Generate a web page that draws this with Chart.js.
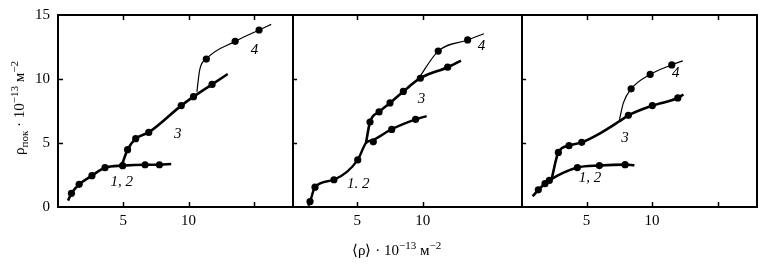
<!DOCTYPE html>
<html>
<head>
<meta charset="utf-8">
<script src="https://cdn.jsdelivr.net/npm/chart.js@4.4.0/dist/chart.umd.min.js"></script>
<style>
  html, body { margin: 0; padding: 0; background: #fff; }
  #wrap { position: relative; width: 761px; height: 268px; overflow: hidden; background: #fff; }
  canvas { position: absolute; top: 0; }
  .title { position: absolute; font-family: "Liberation Serif", serif; font-size: 15px; color: #000; white-space: nowrap; }
  .title sub, .title sup { font-size: 11px; }
  #ytitle { left: 19px; top: 108px; transform: translate(-50%, -50%) rotate(-90deg); }
  #xtitle { left: 352px; top: 239px; }
</style>
</head>
<body>
<div id="wrap">
  <canvas id="c1"></canvas>
  <canvas id="c2"></canvas>
  <canvas id="c3"></canvas>
  <div id="ytitle" class="title">ρ<sub>пок</sub> · 10<sup>−13</sup> м<sup>−2</sup></div>
  <div id="xtitle" class="title">⟨ρ⟩ · 10<sup>−13</sup> м<sup>−2</sup></div>
</div>
<script>
// axis ranges / ticks
var yTicks = [0, 5, 10, 15];
var xLabelled = [5, 10];

// panel 1 (left)
var p1Curve12 = [[0.77, 0.5], [1.03, 1.07], [1.62, 1.77], [2.6, 2.45], [3.6, 3.07], [4.95, 3.23], [6.67, 3.3], [7.77, 3.3], [8.67, 3.36]];
var p1Marks12 = [[1.03, 1.07], [1.62, 1.77], [2.6, 2.45], [3.6, 3.07], [4.95, 3.23], [6.67, 3.3], [7.77, 3.3]];
var p1Curve3 = [[4.9, 3.3], [5.33, 4.48], [5.95, 5.34], [6.95, 5.83], [9.44, 7.92], [10.38, 8.62], [11.8, 9.58], [13.0, 10.39]];
var p1Marks3 = [[5.33, 4.48], [5.95, 5.34], [6.95, 5.83], [9.44, 7.92], [10.38, 8.62], [11.8, 9.58]];
var p1Curve4 = [[10.64, 9.0], [10.85, 10.7], [11.36, 11.56], [13.57, 12.94], [15.4, 13.83], [16.33, 14.27]];
var p1Marks4 = [[11.36, 11.56], [13.57, 12.94], [15.4, 13.83]];
var p1Labels = [['1, 2', 4.88, 1.98], ['3', 9.18, 5.68], ['4', 15.05, 12.27]];

// panel 2 (middle)
var p2Curve12 = [[1.25, 0.1], [1.38, 0.42], [1.76, 1.55], [3.21, 2.13], [5.03, 3.68], [5.66, 5.0], [6.25, 5.25], [7.63, 6.08], [9.46, 6.85], [10.3, 7.1]];
var p2Marks12 = [[1.38, 0.42], [1.76, 1.55], [3.21, 2.13], [5.03, 3.68], [6.22, 5.09], [7.63, 6.06], [9.46, 6.85]];
var p2Curve3 = [[5.66, 5.0], [5.97, 6.64], [6.66, 7.43], [7.5, 8.13], [8.52, 9.03], [9.82, 10.06], [11.91, 10.92], [12.93, 11.44]];
var p2Marks3 = [[5.97, 6.64], [6.66, 7.43], [7.5, 8.13], [8.52, 9.03], [9.82, 10.06], [11.91, 10.92]];
var p2Curve4 = [[9.66, 10.0], [11.19, 12.18], [13.44, 13.05], [14.69, 13.54]];
var p2Marks4 = [[11.19, 12.18], [13.44, 13.05]];
var p2Labels = [['1. 2', 5.07, 1.8], ['3', 9.9, 8.45], ['4', 14.5, 12.6]];

// panel 3 (right)
var p3Curve12 = [[0.89, 0.84], [1.32, 1.34], [1.83, 1.82], [2.16, 2.08], [4.3, 3.08], [5.98, 3.24], [7.94, 3.31], [8.65, 3.26]];
var p3Marks12 = [[1.32, 1.34], [1.83, 1.82], [2.16, 2.08], [4.3, 3.08], [5.98, 3.24], [7.94, 3.31]];
var p3Curve3 = [[2.34, 2.21], [2.85, 4.26], [3.66, 4.79], [4.63, 5.05], [6.03, 5.76], [7.48, 6.68], [8.19, 7.16], [10.02, 7.92], [11.96, 8.52], [12.39, 8.79]];
var p3Marks3 = [[2.85, 4.26], [3.66, 4.79], [4.63, 5.05], [8.19, 7.16], [10.02, 7.92], [11.96, 8.52]];
var p3Curve4 = [[7.48, 6.68], [7.81, 8.13], [8.4, 9.23], [9.85, 10.36], [11.5, 11.1], [12.34, 11.42]];
var p3Marks4 = [[8.4, 9.23], [9.85, 10.36], [11.5, 11.1]];
var p3Labels = [['1, 2', 5.27, 2.29], ['3', 7.94, 5.37], ['4', 11.8, 10.5]];

function pts(arr) {
  return arr.map(function(p) { return {x: p[0], y: p[1]}; });
}

function lineSet(arr, width) {
  return {
    type: 'line', data: pts(arr), borderColor: '#000', borderWidth: width,
    pointRadius: 0, fill: false, cubicInterpolationMode: 'monotone'
  };
}

function markSet(arr) {
  return {
    type: 'scatter', data: pts(arr), pointRadius: 3.6, pointHoverRadius: 3.6,
    backgroundColor: '#000', borderColor: '#000', borderWidth: 0
  };
}

// frame, inward ticks and curve numbers
var framePlugin = {
  id: 'frame',
  afterDatasetsDraw: function(chart, args, opts) {
    var ctx = chart.ctx, a = chart.chartArea;
    var xs = chart.scales.x, ys = chart.scales.y;
    ctx.save();
    ctx.strokeStyle = '#000';
    ctx.lineWidth = 2;
    ctx.strokeRect(a.left, a.top, a.right - a.left, a.bottom - a.top);
    ctx.lineWidth = 1.5;
    ctx.beginPath();
    xs.ticks.forEach(function(t) {
      if (t.value <= xs.min || t.value >= xs.max) return;
      var px = Math.round(xs.getPixelForValue(t.value)) + 0.5;
      ctx.moveTo(px, a.bottom); ctx.lineTo(px, a.bottom - 5);
      ctx.moveTo(px, a.top); ctx.lineTo(px, a.top + 5);
    });
    ys.ticks.forEach(function(t) {
      if (t.value <= ys.min || t.value >= ys.max) return;
      var py = Math.round(ys.getPixelForValue(t.value)) + 0.5;
      ctx.moveTo(a.left, py); ctx.lineTo(a.left + 5, py);
    });
    ctx.stroke();
    ctx.fillStyle = '#000';
    ctx.font = 'italic 15px "Liberation Serif"';
    ctx.textAlign = 'center';
    ctx.textBaseline = 'middle';
    (opts.items || []).forEach(function(l) {
      ctx.fillText(l[0], xs.getPixelForValue(l[1]), ys.getPixelForValue(l[2]));
    });
    ctx.restore();
  }
};

function makePanel(id, left, width, xMax, showY, rightPad, sets, labels) {
  var cv = document.getElementById(id);
  cv.style.left = left + 'px';
  cv.width = width; cv.height = 268;
  cv.style.width = width + 'px'; cv.style.height = '268px';
  return new Chart(cv, {
    data: { datasets: sets },
    options: {
      responsive: false,
      animation: false,
      layout: { autoPadding: false, padding: { top: 15, right: rightPad, left: 0, bottom: 0 } },
      plugins: { legend: { display: false }, tooltip: { enabled: false }, frame: { items: labels } },
      scales: {
        x: {
          type: 'linear', min: 0, max: xMax,
          grid: { display: false, drawTicks: false },
          border: { display: false },
          ticks: {
            stepSize: 5, padding: 5, color: '#000', maxRotation: 0, autoSkip: false,
            font: { family: 'Liberation Serif', size: 15 },
            callback: function(v) { return xLabelled.indexOf(v) >= 0 ? String(v) : ''; }
          },
          afterFit: function(s) { s.height = 61; s.paddingLeft = 0; s.paddingRight = 0; }
        },
        y: {
          type: 'linear', min: 0, max: 15, display: showY,
          grid: { display: false, drawTicks: false },
          border: { display: false },
          ticks: {
            stepSize: 5, padding: 8, color: '#000',
            font: { family: 'Liberation Serif', size: 15 },
            callback: function(v) { return yTicks.indexOf(v) >= 0 ? String(v) : ''; }
          },
          afterFit: function(s) { s.width = showY ? 58 : 0; s.paddingTop = 0; s.paddingBottom = 0; }
        }
      }
    },
    plugins: [framePlugin]
  });
}

makePanel('c1', 0, 294, 18, true, 1, [
  lineSet(p1Curve12, 2.6), lineSet(p1Curve3, 2.6), lineSet(p1Curve4, 1.2),
  markSet(p1Marks12), markSet(p1Marks3), markSet(p1Marks4)
], p1Labels);

makePanel('c2', 292, 232, 17.6, false, 2, [
  lineSet(p2Curve12, 2.4), lineSet(p2Curve3, 2.6), lineSet(p2Curve4, 1.2),
  markSet(p2Marks12), markSet(p2Marks3), markSet(p2Marks4)
], p2Labels);

makePanel('c3', 521, 240, 18, false, 4, [
  lineSet(p3Curve12, 2.6), lineSet(p3Curve3, 2.6), lineSet(p3Curve4, 1.2),
  markSet(p3Marks12), markSet(p3Marks3), markSet(p3Marks4)
], p3Labels);
</script>
</body>
</html>
